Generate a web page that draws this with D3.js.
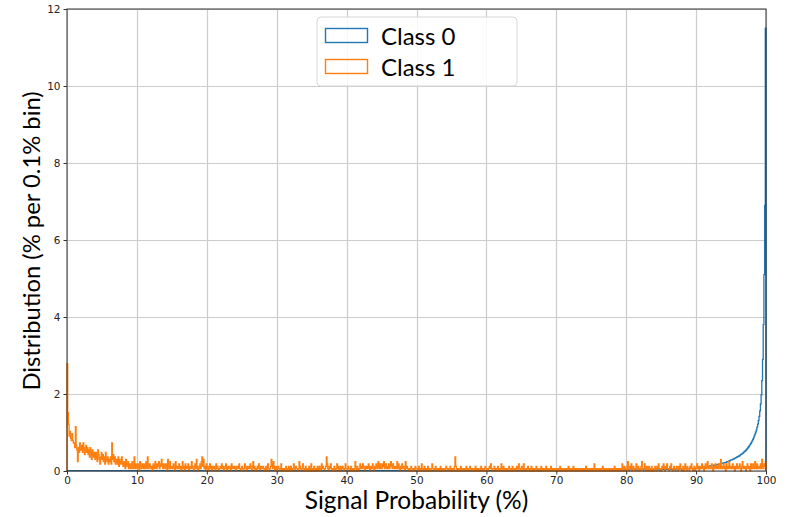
<!DOCTYPE html>
<html>
<head>
<meta charset="utf-8">
<script src="https://cdn.jsdelivr.net/npm/d3@7/dist/d3.min.js"></script>
<style>
  html, body { margin: 0; padding: 0; background: #ffffff; }
  svg { display: block; }
</style>
</head>
<body>
<svg id="chart" width="788" height="517"></svg>
<script>
// Tick labels
const xTicks = [0, 10, 20, 30, 40, 50, 60, 70, 80, 90, 100];
const yTicks = [0, 2, 4, 6, 8, 10, 12];
const seriesNames = ["Class 0", "Class 1"];

// Class 0: % per 0.1% bin. Below 90% the level is given per 1% band (10 bins each),
// from 90% to 100% per individual 0.1% bin.
const class0Low = [
  0.01, 0.01, 0.01, 0.01, 0.01, 0.01, 0.01, 0.01, 0.01, 0.01,
  0.01, 0.01, 0.01, 0.01, 0.01, 0.01, 0.01, 0.01, 0.01, 0.01,
  0.01, 0.01, 0.01, 0.01, 0.01, 0.01, 0.01, 0.01, 0.01, 0.01,
  0.01, 0.01, 0.01, 0.01, 0.01, 0.01, 0.01, 0.01, 0.01, 0.01,
  0.01, 0.01, 0.01, 0.01, 0.01, 0.01, 0.01, 0.01, 0.01, 0.01,
  0.01, 0.01, 0.01, 0.01, 0.01, 0.01, 0.01, 0.01, 0.01, 0.01,
  0.01, 0.01, 0.01, 0.01, 0.01, 0.01, 0.01, 0.01, 0.02, 0.02,
  0.02, 0.02, 0.02, 0.02, 0.02, 0.02, 0.02, 0.02, 0.02, 0.02,
  0.03, 0.03, 0.03, 0.03, 0.03, 0.04, 0.04, 0.05, 0.06, 0.07
];
const class0Tail = [
  0.08, 0.08, 0.08, 0.09, 0.09, 0.09, 0.09, 0.10, 0.10, 0.10,
  0.10, 0.11, 0.11, 0.11, 0.11, 0.12, 0.12, 0.12, 0.12, 0.13,
  0.13, 0.13, 0.14, 0.14, 0.14, 0.15, 0.15, 0.15, 0.16, 0.16,
  0.17, 0.17, 0.17, 0.18, 0.18, 0.19, 0.19, 0.20, 0.20, 0.21,
  0.21, 0.22, 0.22, 0.23, 0.24, 0.24, 0.25, 0.26, 0.27, 0.28,
  0.29, 0.29, 0.30, 0.31, 0.32, 0.33, 0.34, 0.35, 0.36, 0.37,
  0.38, 0.39, 0.40, 0.42, 0.43, 0.44, 0.46, 0.47, 0.49, 0.51,
  0.52, 0.54, 0.56, 0.58, 0.61, 0.63, 0.66, 0.69, 0.72, 0.75,
  0.78, 0.82, 0.86, 0.91, 0.96, 1.01, 1.07, 1.14, 1.22, 1.31,
  1.42, 1.56, 1.74, 1.98, 2.35, 2.90, 3.80, 5.10, 6.90, 11.50
];

// Class 1: sample counts per 0.1% bin (one row per 1% of signal probability)
const class1Total = 1650;
const class1Counts = [
  46,25,20,15,17,14,13,16,13,12,
  12,10,19,11,9,4,10,8,12,9,
  9,11,8,12,10,7,9,11,8,10,
  7,9,6,10,8,5,9,7,6,8,
  5,8,6,4,9,7,5,3,6,8,
  5,7,4,6,3,8,5,4,6,3,
  5,4,6,3,12,5,7,4,6,3,
  4,5,3,6,2,5,3,4,6,3,
  2,4,3,1,5,2,3,4,1,3,
  2,1,3,4,1,2,6,1,3,2,
  1,3,2,0,4,2,1,3,2,1,
  3,1,2,4,1,6,2,1,3,2,
  1,2,0,3,2,1,4,2,1,3,
  2,4,1,2,3,5,2,1,3,2,
  1,3,2,0,5,2,1,4,1,2,
  2,1,3,1,0,4,2,1,2,1,
  3,1,2,0,1,4,1,2,0,3,
  1,2,1,3,0,2,1,1,4,2,
  1,0,2,3,1,5,2,0,1,2,
  3,1,4,6,2,5,1,2,0,3,
  1,2,0,1,3,1,2,0,2,1,
  2,1,0,3,1,2,1,0,1,2,
  1,3,1,2,0,1,2,3,1,0,
  2,1,2,1,0,3,1,2,1,2,
  1,0,2,1,2,1,3,1,0,1,
  2,1,0,1,3,2,1,0,2,1,
  1,2,3,1,0,2,4,1,2,0,
  1,0,2,1,3,1,0,2,1,1,
  2,1,0,1,2,0,1,3,1,0,
  1,2,5,3,1,4,2,0,1,2,
  0,1,2,1,0,1,3,0,1,0,
  1,0,1,2,0,1,0,2,1,0,
  2,1,0,1,3,1,0,2,1,1,
  0,1,4,2,1,0,1,3,1,0,
  1,2,0,1,1,0,2,1,0,3,
  1,0,1,2,0,1,1,0,2,1,
  0,2,1,0,3,1,2,1,0,1,
  2,6,3,1,0,2,1,3,1,0,
  1,0,2,1,0,1,3,1,2,0,
  1,2,0,1,2,1,0,1,3,1,
  1,0,2,1,1,0,2,1,0,1,
  0,1,4,1,0,2,1,0,1,3,
  1,2,1,3,2,1,0,2,1,2,
  1,3,2,0,1,2,1,3,1,0,
  2,1,3,2,1,4,2,1,3,1,
  1,3,2,4,1,2,3,1,2,1,
  3,1,2,4,2,1,3,2,1,2,
  1,2,4,1,3,1,0,2,1,3,
  1,2,1,0,4,1,2,1,0,1,
  0,1,2,1,0,1,1,0,2,1,
  1,0,1,2,0,1,0,3,1,0,
  1,2,0,1,0,1,2,0,1,0,
  0,1,3,1,0,1,0,2,1,0,
  1,0,1,0,2,1,0,1,0,1,
  0,1,2,1,0,1,0,1,2,0,
  1,0,1,0,2,6,2,0,1,0,
  1,0,1,2,0,1,1,0,1,0,
  1,2,0,1,0,1,2,1,0,1,
  0,1,1,0,2,1,0,1,0,1,
  1,0,2,1,0,1,0,1,2,1,
  0,1,0,1,2,1,3,1,0,1,
  1,2,0,1,0,1,2,0,1,0,
  1,3,1,0,2,1,0,1,0,1,
  0,1,2,1,0,1,0,2,1,0,
  1,0,1,2,0,1,3,1,0,1,
  2,1,0,3,1,0,1,0,1,2,
  0,1,0,1,2,0,1,0,1,0,
  1,2,0,1,0,1,0,1,2,0,
  1,0,1,0,1,2,0,1,0,1,
  0,1,2,0,1,0,1,0,1,1,
  0,1,0,1,0,2,1,0,1,0,
  1,0,1,0,1,0,1,2,0,1,
  0,1,0,1,2,0,1,0,1,0,
  1,0,1,0,1,0,1,0,1,1,
  0,1,2,0,1,0,0,1,0,1,
  1,0,1,0,3,1,0,1,0,1,
  0,1,0,1,0,1,2,0,1,0,
  1,0,1,0,1,0,1,0,0,1,
  0,1,0,2,0,1,0,1,0,1,
  1,0,1,0,3,1,0,2,1,0,
  1,2,4,1,0,2,1,3,0,1,
  2,1,0,1,3,1,0,2,1,0,
  1,2,4,1,0,1,3,1,0,2,
  1,0,2,1,0,1,2,0,1,0,
  1,2,1,0,2,1,3,1,0,1,
  0,2,1,3,1,0,2,1,3,1,
  1,0,2,1,3,1,0,1,2,1,
  0,1,2,1,0,2,1,3,1,0,
  1,2,0,1,3,1,0,2,1,1,
  0,2,1,3,1,0,1,2,0,1,
  1,3,1,2,0,1,2,1,3,1,
  2,0,1,3,1,2,4,1,2,1,
  1,2,3,1,0,2,1,3,2,1,
  2,1,3,2,1,5,2,1,2,3,
  1,2,0,3,1,2,1,4,2,1,
  2,1,3,1,2,0,2,1,3,1,
  1,2,3,1,0,2,4,1,2,1,
  2,0,1,3,2,1,2,0,3,1,
  1,3,2,1,4,2,1,3,1,2,
  2,1,3,1,5,2,1,3,2,4
];

const binWidth = 0.1;
const nBins = 1000;

// Per-bin values in % for each class
const class0Values = d3.range(nBins).map(i =>
  i < 900 ? class0Low[Math.floor(i / 10)] : class0Tail[i - 900]);
const class1Values = class1Counts.map(c => c / class1Total * 100);

const colors = ["#1f77b4", "#ff7f0e"];

const svg = d3.select("#chart");
const plot = { left: 67, right: 766, top: 9, bottom: 471 };

const x = d3.scaleLinear().domain([0, 100]).range([plot.left, plot.right]);
const y = d3.scaleLinear().domain([0, 12]).range([plot.bottom, plot.top]);

// Grid
const grid = svg.append("g").attr("stroke", "#cccccc").attr("stroke-width", 1.2);
grid.selectAll("line.gx").data(xTicks).join("line")
  .attr("x1", d => Math.round(x(d)) + 0.5).attr("x2", d => Math.round(x(d)) + 0.5)
  .attr("y1", plot.top).attr("y2", plot.bottom);
grid.selectAll("line.gy").data(yTicks).join("line")
  .attr("y1", d => Math.round(y(d)) + 0.5).attr("y2", d => Math.round(y(d)) + 0.5)
  .attr("x1", plot.left).attr("x2", plot.right);

// Step outline histogram
function stepPoints(values) {
  const pts = [[0, 0]];
  values.forEach((v, i) => pts.push([i * binWidth, v]));
  pts.push([100, values[values.length - 1]]);
  pts.push([100, 0]);
  return pts;
}
const stepLine = d3.line()
  .x(d => x(d[0]))
  .y(d => y(d[1]))
  .curve(d3.curveStepAfter);

[class0Values, class1Values].forEach((vals, k) => {
  svg.append("path")
    .attr("d", stepLine(stepPoints(vals)))
    .attr("fill", "none")
    .attr("stroke", colors[k])
    .attr("stroke-width", 1.3)
    .attr("stroke-linejoin", "miter");
});

// Axes
const tickFont = "DejaVu Sans, sans-serif";
const xAxis = svg.append("g")
  .attr("transform", `translate(0,${plot.bottom})`)
  .call(d3.axisBottom(x).tickValues(xTicks).tickFormat(d3.format("d")).tickSize(3.5).tickPadding(2.5));
const yAxis = svg.append("g")
  .attr("transform", `translate(${plot.left},0)`)
  .call(d3.axisLeft(y).tickValues(yTicks).tickFormat(d3.format("d")).tickSize(3.5).tickPadding(3));
[xAxis, yAxis].forEach(g => {
  g.select(".domain").remove();
  g.selectAll(".tick line").attr("stroke", "#333");
  g.selectAll(".tick text").attr("font-family", tickFont).attr("font-size", 10.5).attr("fill", "#222");
});

// Frame
svg.append("rect")
  .attr("x", plot.left).attr("y", plot.top)
  .attr("width", plot.right - plot.left).attr("height", plot.bottom - plot.top)
  .attr("fill", "none").attr("stroke", "#333").attr("stroke-width", 1);

// Axis titles
const titleFont = "Lato, 'Open Sans', sans-serif";
svg.append("text")
  .attr("x", (plot.left + plot.right) / 2).attr("y", 509)
  .attr("text-anchor", "middle")
  .attr("font-family", titleFont).attr("font-size", 24.5).attr("fill", "#000")
  .text("Signal Probability (%)");
svg.append("text")
  .attr("transform", `translate(40,${(plot.top + plot.bottom) / 2 + 1}) rotate(-90)`)
  .attr("text-anchor", "middle")
  .attr("font-family", titleFont).attr("font-size", 23.8).attr("fill", "#000")
  .text("Distribution (% per 0.1% bin)");

// Legend
const legend = svg.append("g").attr("transform", "translate(317,17)");
legend.append("rect")
  .attr("width", 200).attr("height", 69).attr("rx", 4)
  .attr("fill", "#fff").attr("fill-opacity", 0.85)
  .attr("stroke", "#d6d6d6").attr("stroke-width", 1);
seriesNames.forEach((name, k) => {
  const row = legend.append("g").attr("transform", `translate(0,${k * 31})`);
  row.append("rect")
    .attr("x", 8.5).attr("y", 11.5).attr("width", 42).attr("height", 14)
    .attr("fill", "none").attr("stroke", colors[k]).attr("stroke-width", 1.4);
  row.append("text")
    .attr("x", 64).attr("y", 27.5)
    .attr("font-family", titleFont).attr("font-size", 24).attr("fill", "#000")
    .text(name);
});
</script>
</body>
</html>
